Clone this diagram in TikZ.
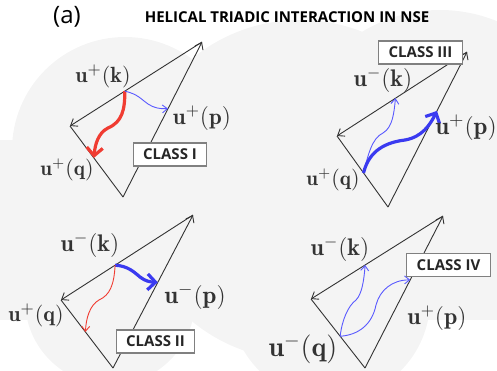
\documentclass[tikz,border=0pt]{standalone}
\usepackage{amsmath}
\usepackage{fontspec}
\newfontfamily\opensans{Open Sans}
\usepackage{tikz}
\usetikzlibrary{arrows.meta,calc}
\definecolor{cLine}{HTML}{333333}
\definecolor{cCloud}{HTML}{F4F4F4}
\definecolor{cRed}{HTML}{F03C32}
\definecolor{cBlue}{HTML}{3A3AF0}
\definecolor{cBlueLt}{HTML}{5A5AFF}
\definecolor{cFrame}{HTML}{808080}
\tikzset{
  side/.style={draw=cLine, line width=0.45pt},
  vec/.style={side, -{Straight Barb[length=3pt,width=4.5pt]}},
  lab/.style={text=cLine, inner sep=0pt, font=\fontsize{#1}{#1}\selectfont},
  lab/.default=11,
  classbox/.style={draw=cFrame, line width=0.6pt, fill=white, inner xsep=5pt, inner ysep=3pt,
                   font=\opensans\bfseries\fontsize{7.5}{9}\selectfont, text=black!85},
  thinflow/.style={draw=#1, line width=0.45pt, -{Straight Barb[length=2.5pt,width=4pt]}},
  thickflow/.style={draw=#1, line width=1.6pt, -{Straight Barb[length=4pt,width=8pt]}},
}

\begin{document}
\begin{tikzpicture}[x=0.5pt, y=-0.5pt]
  \useasboundingbox (0,0) rectangle (497,370);
  % background cloud
  \begin{scope}
    \clip (0,0) rectangle (497,370);
    \fill[cCloud] (125,150) circle[radius=113];
    \fill[cCloud] (300,190) circle[radius=170];
    \fill[cCloud] (440,160) circle[radius=150];
    \fill[cCloud] (110,300) circle[radius=85];
    \fill[cCloud] (330,300) circle[radius=100];
    \fill[cCloud] (0,140) rectangle (497,320);
  \end{scope}

  \node[font=\opensans\fontsize{12}{14}\selectfont] (tag) at (67,17) {(a)};
  \node[font=\opensans\bfseries\fontsize{7.5}{9}\selectfont] (title) at (287,17)
    {HELICAL TRIADIC INTERACTION IN NSE};

  % class I
  \coordinate (b1) at (123,197);
  \coordinate (r1) at (202,42);
  \coordinate (l1) at (70,126);
  \draw[vec] (b1) -- (r1);
  \draw[vec] (r1) -- (l1);
  \draw[side] (b1) -- (l1);
  \coordinate (s1) at ($(r1)!0.585!(l1)$);
  \coordinate (e1q) at ($(l1)!0.45!(b1)$);
  \coordinate (e1p) at ($(b1)!0.57!(r1)$);
  \draw[thickflow=cRed] (s1) .. controls (125,110) and (122,122) .. (108,128)
    .. controls (98,133) and (95,145) .. (e1q);
  \draw[thinflow=cBlueLt] (s1) .. controls (138,94) and (142,100) .. (148,104)
    .. controls (154,108) and (160,109) .. (e1p);
  \node[lab] (k1) at (103,76) {$\mathbf{u}^{+}(\mathbf{k})$};
  \node[lab=11.5] (p1) at (202,118) {$\mathbf{u}^{+}(\mathbf{p})$};
  \node[lab=10.5] (q1) at (67,170) {$\mathbf{u}^{+}(\mathbf{q})$};
  \node[classbox] (c1) at (170,154.5) {CLASS I};

  % class III
  \coordinate (b3) at (388,207);
  \coordinate (r3) at (467,52);
  \coordinate (l3) at (337,136);
  \draw[vec] (b3) -- (r3);
  \draw[vec] (r3) -- (l3);
  \draw[side] (b3) -- (l3);
  \coordinate (s3) at ($(l3)!0.52!(b3)$);
  \coordinate (e3k) at ($(r3)!0.55!(l3)$);
  \coordinate (e3p) at ($(b3)!0.62!(r3)$);
  \draw[thinflow=cBlueLt] (s3) .. controls (368,155) and (372,138) .. (383,133)
    .. controls (393,127) and (394,112) .. (e3k);
  \draw[thickflow=cBlue] (s3) .. controls (368,155) and (380,143) .. (405,140)
    .. controls (422,137) and (430,125) .. (e3p);
  \node[lab=12] (k3) at (383,80) {$\mathbf{u}^{-}(\mathbf{k})$};
  \node[lab=12.5] (p3) at (466,128) {$\mathbf{u}^{+}(\mathbf{p})$};
  \node[lab=10.5] (q3) at (333,180) {$\mathbf{u}^{+}(\mathbf{q})$};
  \node[classbox] (c3) at (420.5,52.5) {CLASS III};

  % class II
  \coordinate (b2) at (113,368);
  \coordinate (r2) at (193,215);
  \coordinate (l2) at (61,300);
  \draw[vec] (b2) -- (r2);
  \draw[vec] (r2) -- (l2);
  \draw[side] (b2) -- (l2);
  \coordinate (s2) at ($(r2)!0.59!(l2)$);
  \coordinate (e2p) at ($(b2)!0.56!(r2)$);
  \coordinate (e2q) at ($(l2)!0.47!(b2)$);
  \draw[thickflow=cBlue] (s2) .. controls (128,266) and (134,272) .. (140,277)
    .. controls (145,281) and (150,282) .. (e2p);
  \draw[thinflow=cRed] (s2) .. controls (114,285) and (110,295) .. (99,300)
    .. controls (90,305) and (86,318) .. (e2q);
  \node[lab=12] (k2) at (90,245) {$\mathbf{u}^{-}(\mathbf{k})$};
  \node[lab=12.5] (p2) at (195,297) {$\mathbf{u}^{-}(\mathbf{p})$};
  \node[lab] (q2) at (36,315) {$\mathbf{u}^{+}(\mathbf{q})$};
  \node[classbox] (c2) at (155.5,341.5) {CLASS II};

  % class IV
  \coordinate (b4) at (365,368);
  \coordinate (r4) at (443,216);
  \coordinate (l4) at (311,299);
  \draw[vec] (b4) -- (r4);
  \draw[vec] (r4) -- (l4);
  \draw[side] (b4) -- (l4);
  \coordinate (s4) at ($(l4)!0.54!(b4)$);
  \coordinate (e4k) at ($(r4)!0.59!(l4)$);
  \coordinate (e4p) at ($(b4)!0.58!(r4)$);
  \draw[thinflow=cBlueLt] (s4) .. controls (342,320) and (348,306) .. (356,300)
    .. controls (362,294) and (364,280) .. (e4k);
  \draw[thinflow=cBlueLt] (s4) .. controls (358,335) and (372,325) .. (376,305)
    .. controls (380,290) and (392,280) .. (e4p);
  \node[lab=12] (k4) at (340,249) {$\mathbf{u}^{-}(\mathbf{k})$};
  \node[lab=12] (p4) at (437,318) {$\mathbf{u}^{+}(\mathbf{p})$};
  \node[lab=14] (q4) at (303,349) {$\mathbf{u}^{-}(\mathbf{q})$};
  \node[classbox] (c4) at (448.5,265) {CLASS IV};
\end{tikzpicture}
\end{document}
